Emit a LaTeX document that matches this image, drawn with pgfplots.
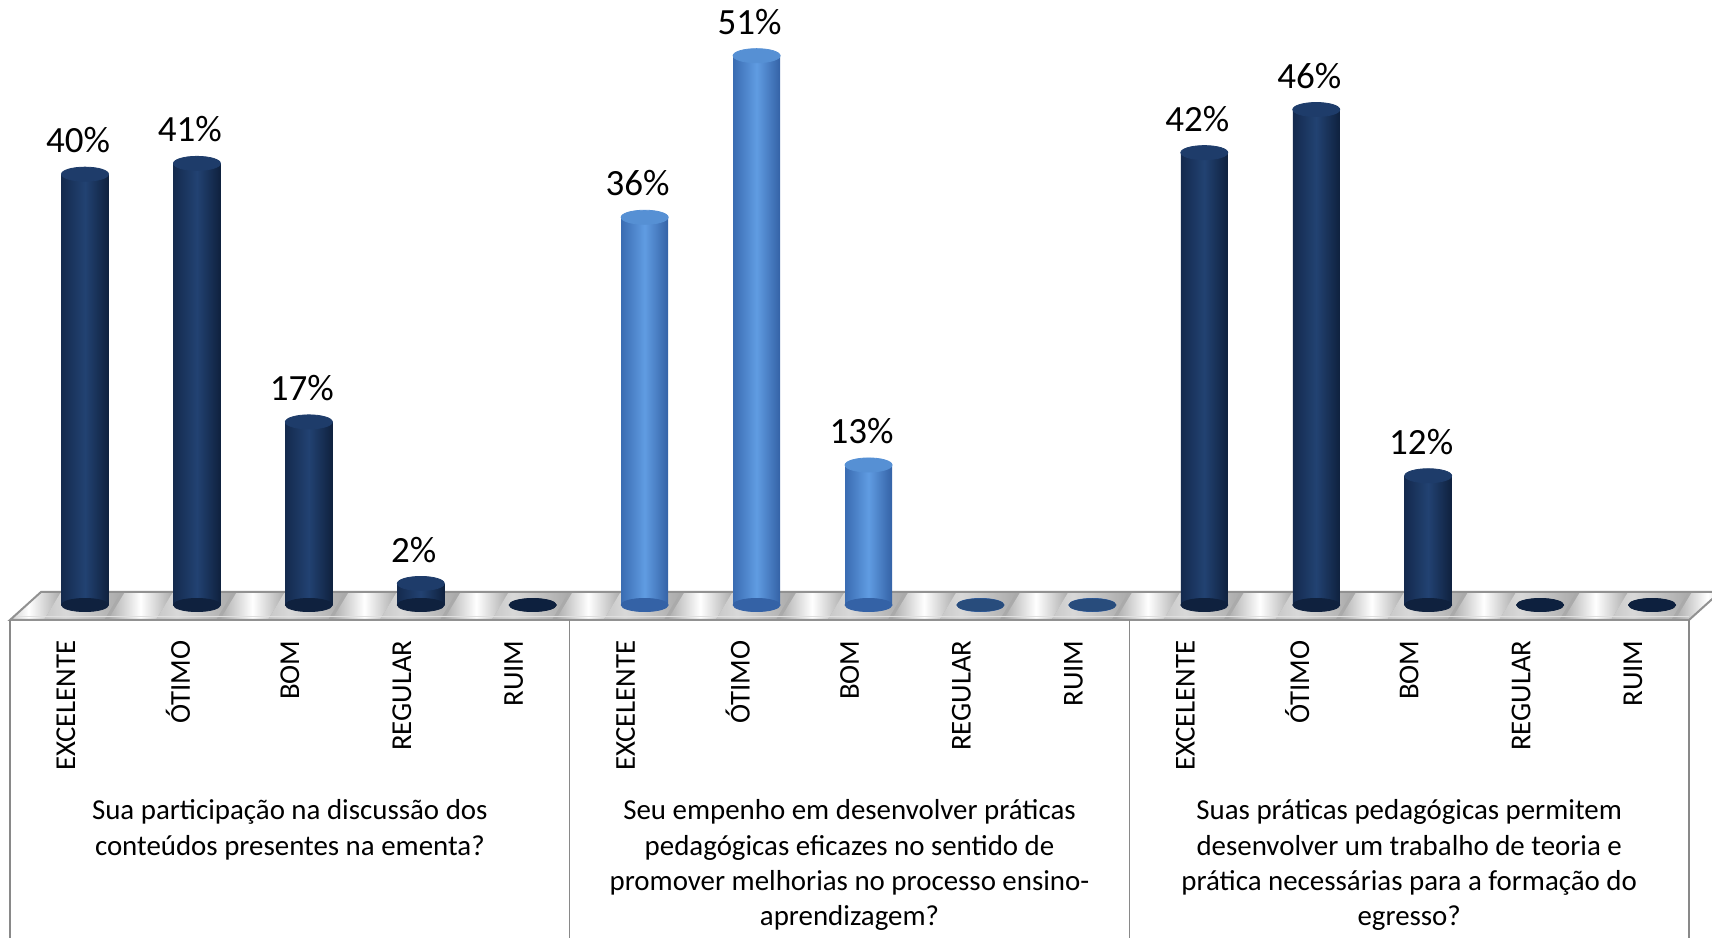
\documentclass[border=0pt]{standalone}
\usepackage{pgfplots}
\pgfplotsset{compat=1.18}
\usepackage{pgfplotstable}
\usepackage{fontspec}
\setmainfont{Carlito}
\definecolor{navyL}{RGB}{20,42,78}
\definecolor{navyM}{RGB}{34,66,114}
\definecolor{navyR}{RGB}{15,33,62}
\definecolor{navyTop}{RGB}{30,60,106}
\definecolor{navyZero}{RGB}{13,32,62}
\definecolor{blueL}{RGB}{58,108,178}
\definecolor{blueM}{RGB}{96,156,226}
\definecolor{blueR}{RGB}{52,98,166}
\definecolor{blueTop}{RGB}{86,144,212}
\definecolor{blueZero}{RGB}{40,76,124}
\definecolor{floorgray}{RGB}{170,170,170}
\definecolor{edgegray}{RGB}{145,145,145}
\definecolor{sepgray}{RGB}{137,137,137}

\pgfplotstableread{
x y b
0.67 40 0
1.67 41 0
2.67 17 0
3.67 2 0
4.67 0 0
}\gA
\pgfplotstableread{
x y b
5.67 36 0
6.67 51 0
7.67 13 0
8.67 0 0
9.67 0 0
}\gB
\pgfplotstableread{
x y b
10.67 42 0
11.67 46 0
12.67 12 0
13.67 0 0
14.67 0 0
}\gC

\pgfplotsset{
  lid/.style 2 args={only marks, mark=*, mark size=11.75pt, mark options={yscale=#1, draw=#2, fill=#2}},
  labelled/.style={
    nodes near coords={\pgfmathprintnumber{\pgfplotspointmeta}\%},
    every node near coord/.append style={font=\fontsize{18.5pt}{22pt}\selectfont, anchor=south, inner sep=0pt, text depth=0pt, yshift=10.5pt, xshift=-3.5pt, text=black},
  },
  cyl/.style 2 args={ybar, bar width=23.5pt, bar shift=0pt, draw=none, labelled,
    left color=#1L, right color=#1R, middle color=#1M,
    x filter/.expression={\coordindex==#2 ? x : nan},
    y filter/.expression={y==0 ? nan : y}},
}

\begin{document}
\begin{tikzpicture}
\begin{axis}[
  name=ax,
  scale only axis,
  width=839.5pt, height=302.5pt,
  xmin=0, xmax=15, ymin=0, ymax=56.17,
  clip=false,
  axis line style={draw=none},
  major tick length=0pt,
  ytick=\empty,
  /pgf/number format/assume math mode=true,
  xtick={0.5,1.5,2.5,3.5,4.5,5.5,6.5,7.5,8.5,9.5,10.5,11.5,12.5,13.5,14.5},
  xticklabels={EXCELENTE,ÓTIMO,BOM,REGULAR,RUIM,EXCELENTE,ÓTIMO,BOM,REGULAR,RUIM,EXCELENTE,ÓTIMO,BOM,REGULAR,RUIM},
  xticklabel style={rotate=90, anchor=east, inner sep=0pt, font=\fontsize{14.4pt}{17pt}\selectfont},
  xticklabel shift=17.5pt,
]
% floor
\fill[floorgray] (axis cs:0,-1.39) -- (axis cs:15,-1.39) -- (axis cs:15.277,1.21) -- (axis cs:0.277,1.21) -- cycle;
\begin{scope}
\clip (axis cs:0,-1.39) -- (axis cs:15,-1.39) -- (axis cs:15.277,1.21) -- (axis cs:0.277,1.21) -- cycle;
\pgfplotsinvokeforeach{-1,0,...,15}{
  \shade[left color=floorgray, right color=floorgray, middle color=white]
    (axis cs:#1,-1.39) ++(-7pt,0) -- ++(24pt,0) -- ++(8.5pt,14pt) -- ++(-24pt,0) -- cycle;
  \shade[left color=floorgray, right color=floorgray, middle color=gray!30]
    (axis cs:#1,-1.39) ++(17pt,0) -- ++(30pt,0) -- ++(8.5pt,14pt) -- ++(-30pt,0) -- cycle;
}
\end{scope}
\draw[edgegray, line width=1pt] (axis cs:0,-1.39) -- (axis cs:15,-1.39) -- (axis cs:15.277,1.21) -- (axis cs:0.277,1.21) -- cycle;
\draw[gray!25, line width=0.6pt] (axis cs:0.05,-1.1) -- (axis cs:15,-1.1);
% separators
\draw[sepgray, line width=0.75pt] (axis cs:0,-1.39) -- (axis cs:0,-31.5);
\draw[sepgray, line width=0.75pt] (axis cs:5,-1.39) -- (axis cs:5,-31.5);
\draw[sepgray, line width=0.75pt] (axis cs:10,-1.39) -- (axis cs:10,-31.5);
\draw[sepgray, line width=0.75pt] (axis cs:15,-1.39) -- (axis cs:15,-31.5);

% bottom ellipses
\addplot[lid={0.28}{navyR}] table[x=x,y=b] {\gA};
\addplot[lid={0.28}{blueR}] table[x=x,y=b] {\gB};
\addplot[lid={0.28}{navyR}] table[x=x,y=b] {\gC};

% bars (one plot per bar, so that each bar gets its own shading)
\pgfplotsinvokeforeach{0,1,2,3}{
  \addplot[cyl={navy}{#1}] table[x=x,y=y] {\gA};
}
\pgfplotsinvokeforeach{0,1,2}{
  \addplot[cyl={blue}{#1}] table[x=x,y=y] {\gB};
  \addplot[cyl={navy}{#1}] table[x=x,y=y] {\gC};
}

% top lids (non-zero)
\addplot[lid={0.3}{navyTop}, y filter/.expression={y==0 ? nan : y}] table[x=x,y=y] {\gA};
\addplot[lid={0.3}{blueTop}, y filter/.expression={y==0 ? nan : y}] table[x=x,y=y] {\gB};
\addplot[lid={0.3}{navyTop}, y filter/.expression={y==0 ? nan : y}] table[x=x,y=y] {\gC};
% zero lids
\addplot[lid={0.26}{navyZero}, y filter/.expression={y==0 ? y : nan}] table[x=x,y=y] {\gA};
\addplot[lid={0.26}{blueZero}, y filter/.expression={y==0 ? y : nan}] table[x=x,y=y] {\gB};
\addplot[lid={0.26}{navyZero}, y filter/.expression={y==0 ? y : nan}] table[x=x,y=y] {\gC};

% group labels
\node[anchor=north, align=center, inner sep=0pt, font=\fontsize{14.45pt}{17.65pt}\selectfont] at (axis cs:2.5,-18.05)
  {Sua participação na discussão dos\\conteúdos presentes na ementa?};
\node[anchor=north, align=center, inner sep=0pt, font=\fontsize{14.45pt}{17.65pt}\selectfont] at (axis cs:7.5,-18.05)
  {Seu empenho em desenvolver práticas\\pedagógicas eficazes no sentido de\\promover melhorias no processo ensino-\\aprendizagem?};
\node[anchor=north, align=center, inner sep=0pt, font=\fontsize{14.45pt}{17.65pt}\selectfont] at (axis cs:12.5,-18.05)
  {Suas práticas pedagógicas permitem\\desenvolver um trabalho de teoria e\\prática necessárias para a formação do\\egresso?};
\end{axis}
\pgfresetboundingbox
\path[use as bounding box] ([xshift=-5pt,yshift=-166pt]ax.south west) rectangle ([xshift=11.5pt]ax.north east);
\end{tikzpicture}
\end{document}
